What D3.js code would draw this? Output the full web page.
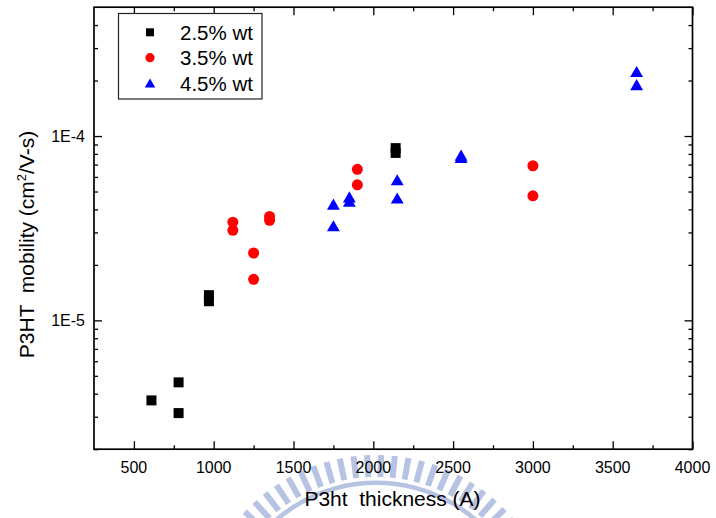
<!DOCTYPE html>
<html>
<head>
<meta charset="utf-8">
<script src="https://cdn.jsdelivr.net/npm/d3@7"></script>
<style>
  html, body { margin: 0; padding: 0; background: #fff; }
  svg { display: block; }
  text { font-family: "Liberation Sans", Arial, Helvetica, sans-serif; fill: #000; }
</style>
</head>
<body>
<div id="chart"></div>
<script>
// Mobility vs film thickness for three P3HT concentrations
const seriesNames = ["2.5% wt", "3.5% wt", "4.5% wt"];
const seriesColors = ["#000000", "#ff0000", "#0000ff"];

// [thickness (A), mobility (cm^2/V-s)]
const wt25 = [
  [610, 3.68e-6], [780, 4.61e-6], [780, 3.14e-6],
  [970, 1.37e-5], [970, 1.27e-5],
  [2140, 8.6e-5], [2140, 8.1e-5]
];
const wt35 = [
  [1120, 3.41e-5], [1120, 3.08e-5],
  [1250, 2.32e-5], [1250, 1.67e-5],
  [1350, 3.66e-5], [1350, 3.49e-5],
  [1900, 6.60e-5], [1900, 5.44e-5],
  [3000, 6.90e-5], [3000, 4.74e-5]
];
const wt45 = [
  [1750, 4.27e-5], [1750, 3.26e-5],
  [1850, 4.68e-5], [1850, 4.43e-5],
  [2150, 5.79e-5], [2150, 4.61e-5],
  [2550, 7.88e-5], [2550, 7.66e-5],
  [3650, 2.24e-4], [3650, 1.90e-4]
];

const xDomain = [250, 4000];
const yDomain = [2e-6, 5e-4];
const xMajorTicks = [500, 1000, 1500, 2000, 2500, 3000, 3500, 4000];
const xMinorTicks = [750, 1250, 1750, 2250, 2750, 3250, 3750];
const yMajorTicks = [1e-5, 1e-4];
const yMajorLabels = ["1E-5", "1E-4"];
const yMinorTicks = [2e-6, 3e-6, 4e-6, 5e-6, 6e-6, 7e-6, 8e-6, 9e-6,
                     2e-5, 3e-5, 4e-5, 5e-5, 6e-5, 7e-5, 8e-5, 9e-5,
                     2e-4, 3e-4, 4e-4];

const W = 716, H = 518;
const plot = { left: 94, right: 692.5, top: 7.2, bottom: 449.2 };

const svg = d3.select("#chart").append("svg")
  .attr("width", W).attr("height", H)
  .attr("viewBox", `0 0 ${W} ${H}`);

svg.append("rect").attr("width", W).attr("height", H).attr("fill", "#fff");

// faint emblem along the bottom edge
const emblem = svg.append("g").attr("fill", "#b4c0e2").attr("opacity", 0.95);
const ec = [376, 635];
d3.range(-60, 60.1, 4.4).forEach(a => {
  emblem.append("rect")
    .attr("x", -3).attr("y", -180).attr("width", 6).attr("height", 22)
    .attr("transform", `translate(${ec[0]},${ec[1]}) rotate(${a})`);
});
emblem.append("path")
  .attr("transform", `translate(${ec[0]},${ec[1]})`)
  .attr("d", d3.arc().innerRadius(150).outerRadius(154.5)
    .startAngle(-Math.PI * 0.33).endAngle(Math.PI * 0.33)());

const x = d3.scaleLinear().domain(xDomain).range([plot.left, plot.right]);
const y = d3.scaleLog().domain(yDomain).range([plot.bottom, plot.top]);

// axes: ticks point into the plot on all four sides
const axisG = svg.append("g");
const majLen = 8, minLen = 4;

const bottomAxis = d3.axisTop(x).tickValues(xMajorTicks).tickSize(majLen).tickFormat("");
const bottomMinor = d3.axisTop(x).tickValues(xMinorTicks).tickSize(minLen).tickFormat("");
const topAxis = d3.axisBottom(x).tickValues(xMajorTicks).tickSize(majLen).tickFormat("");
const topMinor = d3.axisBottom(x).tickValues(xMinorTicks).tickSize(minLen).tickFormat("");
const leftAxis = d3.axisRight(y).tickValues(yMajorTicks).tickSize(majLen).tickFormat("");
const leftMinor = d3.axisRight(y).tickValues(yMinorTicks).tickSize(minLen).tickFormat("");
const rightAxis = d3.axisLeft(y).tickValues(yMajorTicks).tickSize(majLen).tickFormat("");
const rightMinor = d3.axisLeft(y).tickValues(yMinorTicks).tickSize(minLen).tickFormat("");

function place(axis, tx, ty) {
  const g = axisG.append("g").attr("transform", `translate(${tx},${ty})`).call(axis);
  g.select(".domain").remove();
  g.selectAll(".tick line").attr("stroke", "#000").attr("stroke-width", 1.3);
  return g;
}
place(bottomAxis, 0, plot.bottom);
place(bottomMinor, 0, plot.bottom);
place(topAxis, 0, plot.top);
place(topMinor, 0, plot.top);
place(leftAxis, plot.left, 0);
place(leftMinor, plot.left, 0);
place(rightAxis, plot.right, 0);
place(rightMinor, plot.right, 0);

// frame
svg.append("rect")
  .attr("x", plot.left).attr("y", plot.top)
  .attr("width", plot.right - plot.left).attr("height", plot.bottom - plot.top)
  .attr("fill", "none").attr("stroke", "#000").attr("stroke-width", 1.7);

// tick labels
svg.append("g").selectAll("text").data(xMajorTicks).join("text")
  .attr("x", d => x(d)).attr("y", 472.5)
  .attr("text-anchor", "middle").attr("font-size", 16)
  .text(d => d);

svg.append("g").selectAll("text").data(yMajorTicks).join("text")
  .attr("x", 85).attr("y", d => y(d))
  .attr("text-anchor", "end").attr("dominant-baseline", "central").attr("font-size", 16)
  .text((d, i) => yMajorLabels[i]);

// axis titles
svg.append("text")
  .attr("x", 392.5).attr("y", 505.5)
  .attr("text-anchor", "middle").attr("font-size", 21)
  .attr("xml:space", "preserve")
  .text("P3ht  thickness (A)");

const yTitle = svg.append("text")
  .attr("transform", "translate(34,244.5) rotate(-90)")
  .attr("text-anchor", "middle").attr("font-size", 21)
  .attr("xml:space", "preserve");
yTitle.append("tspan").text("P3HT  mobility (cm");
yTitle.append("tspan").attr("font-size", 13).attr("dy", -8).text("2");
yTitle.append("tspan").attr("dy", 8).text("/V-s)");

// markers
const shapes = [d3.symbolSquare, d3.symbolCircle, d3.symbolTriangle];
const sizes = [100, 95, 72];
const legendSizes = [64, 66, 48];

// vertical offset that centres a d3 triangle on its bounding box
function triShift(size) {
  return Math.sqrt(size / (3 * Math.sqrt(3))) / 2;
}

function drawSeries(data, idx) {
  const sym = d3.symbol().type(shapes[idx]).size(sizes[idx]);
  const dy = idx === 2 ? triShift(sizes[idx]) : 0;
  svg.append("g").selectAll("path").data(data).join("path")
    .attr("d", sym)
    .attr("transform", d => `translate(${x(d[0])},${y(d[1]) + dy})`)
    .attr("fill", seriesColors[idx]);
}
drawSeries(wt25, 0);
drawSeries(wt35, 1);
drawSeries(wt45, 2);

// legend
const legend = svg.append("g");
legend.append("rect")
  .attr("x", 118.5).attr("y", 13.5).attr("width", 143.5).attr("height", 85.5)
  .attr("fill", "#fff").attr("stroke", "#222").attr("stroke-width", 1.2);
const rowY = [32.3, 57.7, 83];
seriesNames.forEach((name, i) => {
  const dy = i === 2 ? triShift(legendSizes[i]) : 0;
  legend.append("path")
    .attr("d", d3.symbol().type(shapes[i]).size(legendSizes[i]))
    .attr("transform", `translate(150,${rowY[i] + dy})`)
    .attr("fill", seriesColors[i]);
  legend.append("text")
    .attr("x", 180).attr("y", rowY[i])
    .attr("dominant-baseline", "central").attr("font-size", 20.5)
    .text(name);
});
</script>
</body>
</html>
